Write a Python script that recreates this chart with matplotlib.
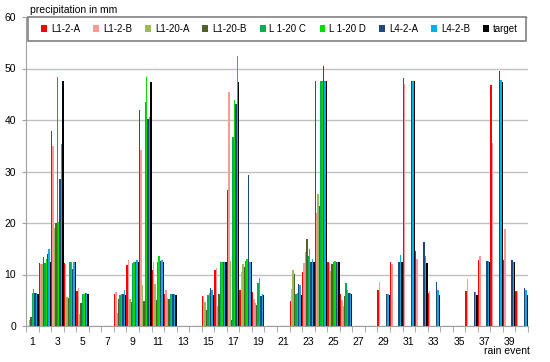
import numpy as np
import matplotlib
matplotlib.use('Agg')
import matplotlib.pyplot as plt
from matplotlib.patches import Rectangle

plt.rcParams['font.family'] = ['Liberation Sans', 'DejaVu Sans']

n = np.nan

events = list(range(1, 41))
tick_labels = [str(e) for e in events if e % 2 == 1]

series_names = ['L1-2-A', 'L1-2-B', 'L1-20-A', 'L1-20-B', 'L 1-20 C', 'L 1-20 D', 'L4-2-A', 'L4-2-B', 'target']

l1_2_a = [6.3, 12.3, 37.8, 12.3, 6.8, n, n, 6.3, 11.9, 42.0, 10.8, 6.3, n, n,
          5.8, 10.8, 26.5, 7.0, 6.6, n, n, 4.8, 10.5, 47.5, 12.5, 6.2, n, n,
          6.9, 12.4, 48.1, 14.6, 6.5, n, n, 6.8, 12.8, 46.7, 12.9, 6.7]
l1_2_b = [n, 12.0, 35.0, 12.0, 7.4, n, n, 6.6, 12.9, 34.1, 12.5, 6.9, n, n,
          5.8, 11.2, 45.4, 10.5, 5.3, n, n, 7.1, 12.2, 22.0, 12.3, 5.0, n, n,
          8.5, 12.1, 47.0, 13.1, 6.8, n, n, 9.1, 13.5, 35.6, 18.9, 6.8]
l1_20_a = [1.2, 12.0, 19.0, 5.7, 2.4, n, n, 2.6, 5.2, 8.0, 8.1, 5.5, n, n,
           4.6, 3.8, 12.6, 12.1, 4.5, n, n, 10.8, 14.4, 25.6, 10.7, 3.8, n, n,
           n, n, n, n, n, n, n, n, n, n, n, n]
l1_20_b = [1.8, 13.4, 20.0, 5.4, 4.5, n, n, 5.2, 4.7, 4.9, 5.0, 5.2, n, n,
           3.2, 6.2, 1.2, 11.5, 4.1, n, n, 10.1, 16.8, 23.3, 12.0, 5.8, n, n,
           n, n, n, n, n, n, n, n, n, n, n, n]
l1_20_c = [6.4, 12.3, 48.4, 12.5, 6.3, n, n, 6.0, 12.3, 43.5, 12.5, 6.3, n, n,
           6.1, 12.4, 36.7, 12.6, 8.4, n, n, 6.2, 13.5, 47.5, 12.5, 8.4, n, n,
           n, n, n, n, n, n, n, n, n, n, n, n]
l1_20_d = [7.1, 13.1, 20.2, 12.5, 6.3, n, n, 6.3, 12.4, 48.3, 13.6, 6.3, n, n,
           6.5, 12.4, 43.9, 13.1, 9.3, n, n, 6.5, 15.0, 47.5, 12.6, 7.0, n, n,
           n, n, n, n, n, n, n, n, n, n, n, n]
l4_2_a = [6.5, 13.9, 28.5, 11.0, 6.4, n, n, 6.3, 12.5, 40.1, 12.6, 6.3, n, n,
          7.4, 12.4, 43.2, 29.4, 5.8, n, n, 8.1, 12.5, 50.5, 12.4, 6.4, n, n,
          6.3, 12.4, 47.6, 16.3, 8.5, n, n, 6.6, 12.6, 49.5, 12.8, 7.4]
l4_2_b = [6.4, 14.9, 35.3, 12.5, 6.4, n, n, 6.9, 12.8, 40.5, 12.8, 6.2, n, n,
          7.0, 12.5, 52.5, 12.5, 6.3, n, n, 7.9, 13.0, 47.5, 12.5, 6.4, n, n,
          6.3, 13.8, 47.6, 13.5, 7.0, n, n, 6.6, 12.6, 47.8, 12.5, 7.0]
target = [6.2, 12.4, 47.5, 12.5, 6.2, n, n, 6.1, 12.4, 47.4, 12.4, 6.1, n, n,
          6.1, 12.5, 47.4, 12.5, 6.0, n, n, 6.1, 12.5, 47.5, 12.5, 6.2, n, n,
          6.1, 12.4, 47.5, 12.3, 6.1, n, n, 6.1, 12.4, 47.4, 12.4, 6.1]

all_series = [l1_2_a, l1_2_b, l1_20_a, l1_20_b, l1_20_c, l1_20_d, l4_2_a, l4_2_b, target]
colors = ['#ff0000', '#ff9999', '#9bbb59', '#4f6228', '#00b050', '#00e000', '#1f497d', '#00b0f0', '#000000']

fig = plt.figure(figsize=(5.5, 3.62), dpi=100)
ax = fig.add_axes([26/550, 36/362, 502/550, 309/362])

x = np.array(events, dtype=float)
nser = len(all_series)
w = 1.0 / nser
for i in range(nser):
    ax.bar(x - 0.5 + (i + 0.5) * w, all_series[i], width=w, color=colors[i],
           label=series_names[i], linewidth=0)

ax.set_xlim(0.5, 40.5)
ax.set_ylim(0, 60)
ax.set_yticks(range(0, 61, 10))
ax.yaxis.grid(True, color='#c0c0c0', linewidth=1)
ax.set_axisbelow(True)

ax.set_xticks([e for e in events if e % 2 == 1])
ax.set_xticklabels(tick_labels)
ax.set_xticks(np.arange(0.5, 41, 1), minor=True)
ax.tick_params(axis='x', which='major', length=0, labelsize=7.5, pad=8)
ax.tick_params(axis='x', which='minor', length=4, color='#a0a0a0')
ax.tick_params(axis='y', length=3, color='#a0a0a0', labelsize=7.5, pad=4)

for s in ['top', 'right']:
    ax.spines[s].set_visible(False)
for s in ['left', 'bottom']:
    ax.spines[s].set_color('#a0a0a0')

# legend box across the top of the plot
box_h = 24 / 309
ax.add_patch(Rectangle((0.003, 1 - box_h), 0.994, box_h, transform=ax.transAxes,
                       facecolor='white', edgecolor='#808080', linewidth=1.2,
                       zorder=5, clip_on=False))
leg = ax.legend(loc='center', bbox_to_anchor=(0.03, 1 - box_h, 0.95, box_h), mode='expand',
                ncol=9, fontsize=7, frameon=False,
                handlelength=0.6, handleheight=0.6, handletextpad=0.4,
                borderpad=0, columnspacing=0.6, borderaxespad=0)
leg.set_zorder(6)

fig.text(30/550, 1 - 10/362, 'precipitation in mm', fontsize=7.5, va='center', ha='left')
fig.text(530/550, 1 - 351/362, 'rain event', fontsize=7.5, va='center', ha='right')

fig.savefig('out.png', dpi=100)
